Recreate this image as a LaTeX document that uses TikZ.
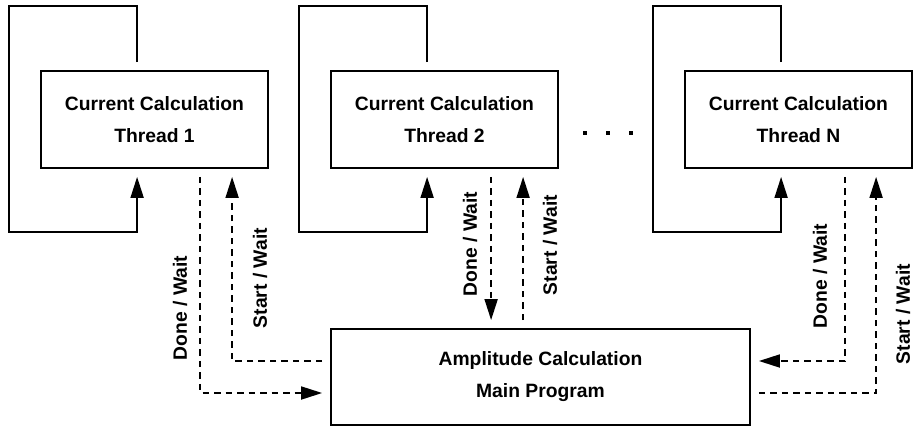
\documentclass[tikz,border=0pt]{standalone}
\usepackage{fontspec}
\setmainfont{Liberation Sans}
\usetikzlibrary{arrows.meta}
\tikzset{
  x=1pt, y=-1pt,
  box/.style={draw, line width=1.8pt, rectangle, minimum width=227pt, minimum height=97pt,
    inner sep=0pt, align=center, font=\fontsize{19.3pt}{32pt}\selectfont\bfseries},
  solidline/.style={line width=1.8pt, shorten <=8pt, shorten >=8pt},
  dashline/.style={line width=1.8pt, dash pattern=on 6.5pt off 5pt, shorten <=8pt, shorten >=8pt},
  tip/.style={-{Triangle[length=21pt,width=13pt]}},
  lbl/.style={rotate=90, inner sep=0pt, font=\fontsize{19.3pt}{22pt}\selectfont\bfseries},
  dot/.style={fill, rectangle, minimum size=4.5pt, inner sep=0pt}
}
\begin{document}
\begin{tikzpicture}
\useasboundingbox (0,0) rectangle (913,426);
% thread boxes
\node[box] (t1) at (154.5,119.5) {Current Calculation\\Thread 1};
\node[box] (t2) at (444.5,119.5) {Current Calculation\\Thread 2};
\node[box] (t3) at (798.5,119.5) {Current Calculation\\Thread N};
\node[box, minimum width=419pt, minimum height=96pt] (main) at (540.5,377) {Amplitude Calculation\\Main Program};
% dots
\node[dot] (d1) at (585,133) {};
\node[dot] (d2) at (608,133) {};
\node[dot] (d3) at (631,133) {};
% loops
\draw[solidline, tip] ([xshift=97pt]t1.north west) -- ++(0,-64) -| (9,232) -| ([xshift=97pt]t1.south west);
\draw[solidline, tip] ([xshift=97pt]t2.north west) -- ++(0,-64) -| (299,232) -| ([xshift=97pt]t2.south west);
\draw[solidline, tip] ([xshift=97pt]t3.north west) -- ++(0,-64) -| (653,232) -| ([xshift=97pt]t3.south west);
% thread 1 signals
\draw[dashline, tip] ([xshift=160pt]t1.south west) |- ([yshift=-16pt]main.west);
\draw[dashline, tip] ([yshift=16pt]main.west) -| ([xshift=192pt]t1.south west);
% thread 2 signals
\draw[dashline, tip] ([xshift=161pt]t2.south west) -- ([xshift=161pt]t2.south west |- main.north);
\draw[dashline, tip] ([xshift=193pt]t2.south west |- main.north) -- ([xshift=193pt]t2.south west);
% thread N signals
\draw[dashline, tip] ([xshift=161pt]t3.south west) |- ([yshift=16pt]main.east);
\draw[dashline, tip] ([yshift=-16pt]main.east) -| ([xshift=192pt]t3.south west);
% labels
\node[lbl] (l1d) at (180,308) {Done / Wait};
\node[lbl] (l1s) at (260,278) {Start / Wait};
\node[lbl] (l2d) at (470,244) {Done / Wait};
\node[lbl] (l2s) at (550,245) {Start / Wait};
\node[lbl] (l3d) at (820,276) {Done / Wait};
\node[lbl] (l3s) at (903,314) {Start / Wait};
\end{tikzpicture}
\end{document}
